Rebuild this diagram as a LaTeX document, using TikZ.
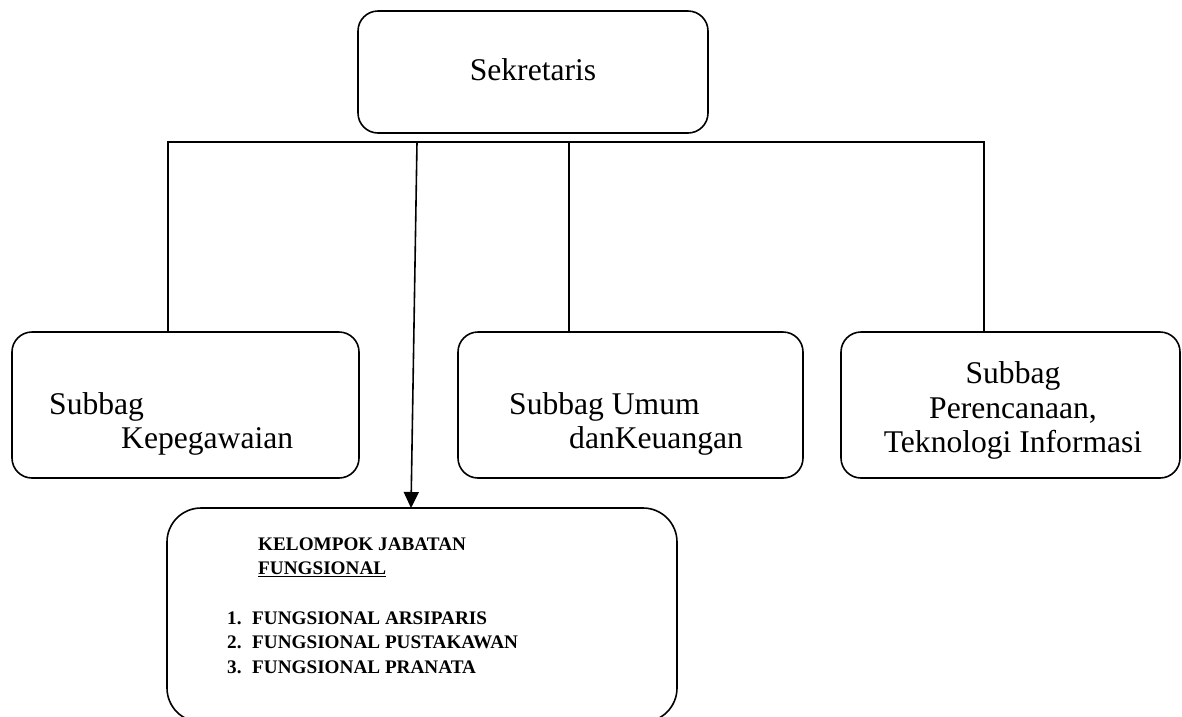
\documentclass[tikz,border=0pt]{standalone}
\usepackage{fontspec}
\setmainfont{Liberation Serif}
\usetikzlibrary{arrows.meta}
\newcommand\myul[1]{\setbox0\hbox{#1}\rlap{\rule[-3.2pt]{\wd0}{1.3pt}}\box0}
\tikzset{
  box/.style={draw, line width=1.6pt, rounded corners=20pt, inner sep=0pt},
  big/.style={font=\fontsize{31.6}{35}\selectfont, inner sep=0pt, anchor=base west},
  bigc/.style={font=\fontsize{31.6}{35}\selectfont, inner sep=0pt, anchor=base},
  small/.style={font=\fontsize{19.2}{24}\selectfont\bfseries, inner sep=0pt, anchor=base west},
  line/.style={line width=1.6pt},
}
\begin{document}
\begin{tikzpicture}[x=1pt,y=-1pt]
\useasboundingbox (0,0) rectangle (1182,716);
% boxes
\node[box, minimum width=350pt, minimum height=122pt] (sek) at (533,72) {};
\node[box, minimum width=347pt, minimum height=146pt] (kep) at (185.5,405) {};
\node[box, minimum width=345pt, minimum height=146pt] (umum) at (630.5,405) {};
\node[box, minimum width=339pt, minimum height=146pt] (ren) at (1010.5,405) {};
\node[box, rounded corners=34pt, minimum width=510pt, minimum height=214pt] (kjf) at (422,615) {};
% texts
\node[bigc] (tsek) at (533,80) {Sekretaris};
\node[big] (tk1) at (49,414) {Subbag};
\node[big] (tk2) at (121,448) {Kepegawaian};
\node[big] (tu1) at (509,414) {Subbag Umum};
\node[big] (tu2) at (569,448) {danKeuangan};
\node[bigc] (tr1) at (1013,383) {Subbag};
\node[bigc] (tr2) at (1013,418) {Perencanaan,};
\node[bigc] (tr3) at (1013,452) {Teknologi Informasi};
\node[small] (kj1) at (258,550) {KELOMPOK JABATAN};
\node[small] (kj2) at (258,574) {\myul{FUNGSIONAL}};
\node[small] (n1) at (227,624) {1.};
\node[small] (n2) at (227,648) {2.};
\node[small] (n3) at (227,673) {3.};
\node[small] (f1) at (252,624) {FUNGSIONAL ARSIPARIS};
\node[small] (f2) at (252,648) {FUNGSIONAL PUSTAKAWAN};
\node[small] (f3) at (252,673) {FUNGSIONAL PRANATA};
% connectors
\coordinate (bL) at (168,142);
\coordinate (bR) at (984,142);
\coordinate (bU) at (569,142);
\coordinate (bA) at (417,142);
\coordinate (aT) at (411,508);
\draw[line] (kep.north -| bL) -- (bL) -- (bR) -- (ren.north -| bR);
\draw[line] (bU) -- (bU |- umum.north);
\draw[line, -{Triangle[length=16pt,width=15pt]}] (bA) -- (aT);
\end{tikzpicture}
\end{document}
